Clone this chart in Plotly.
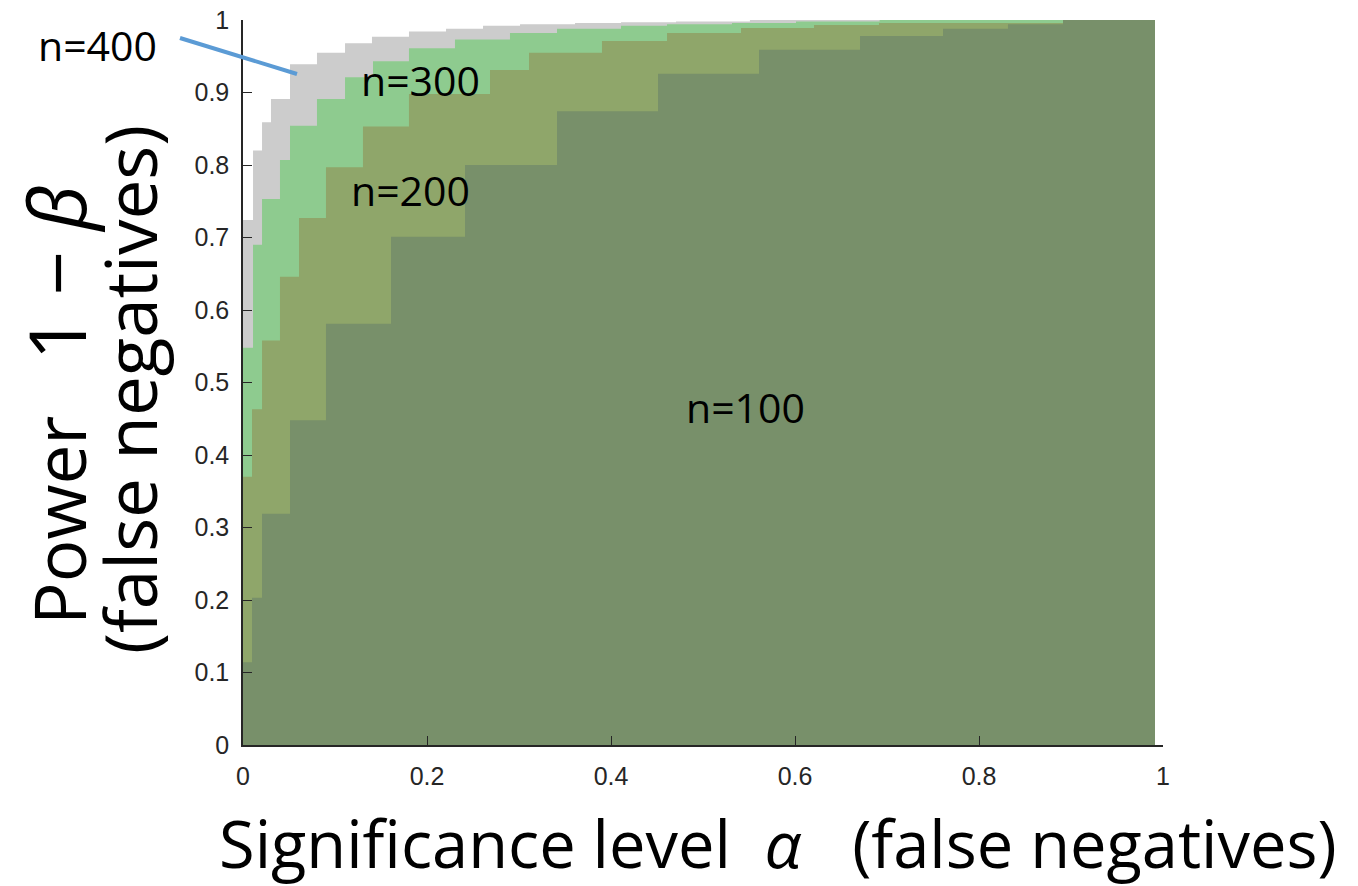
import plotly.graph_objects as go

# Step curves (significance level alpha -> power 1-beta)
alpha_100 = [0, 0.0098, 0.0207, 0.0511, 0.0902, 0.1609, 0.2413, 0.3413, 0.4511, 0.5609, 0.6707, 0.7609, 0.8315, 0.8913, 0.9913]
power_100 = [0.114, 0.203, 0.319, 0.448, 0.581, 0.701, 0.800, 0.874, 0.926, 0.959, 0.978, 0.988, 0.994, 1.0, 1.0]

alpha_200 = [0, 0.0098, 0.0207, 0.0402, 0.0609, 0.0902, 0.1304, 0.1804, 0.2685, 0.3109, 0.3902, 0.4609, 0.5413, 0.6207, 0.6913, 0.8913, 0.9913]
power_200 = [0.370, 0.463, 0.558, 0.646, 0.727, 0.797, 0.853, 0.898, 0.931, 0.955, 0.971, 0.982, 0.989, 0.993, 0.996, 1.0, 1.0]

alpha_300 = [0, 0.0109, 0.0207, 0.0402, 0.0511, 0.0804, 0.1109, 0.1413, 0.1804, 0.2304, 0.2902, 0.3413, 0.4109, 0.4609, 0.5315, 0.6011, 0.692, 0.9913]
power_300 = [0.548, 0.690, 0.753, 0.807, 0.854, 0.891, 0.921, 0.943, 0.961, 0.973, 0.982, 0.988, 0.992, 0.994, 0.996, 0.998, 1.0, 1.0]

alpha_400 = [0, 0.0109, 0.0207, 0.0304, 0.0511, 0.0804, 0.1109, 0.1402, 0.1804, 0.2207, 0.2609, 0.3011, 0.3609, 0.4109, 0.4707, 0.551, 0.9913]
power_400 = [0.724, 0.820, 0.859, 0.891, 0.939, 0.955, 0.968, 0.977, 0.984, 0.988, 0.992, 0.994, 0.996, 0.997, 0.998, 1.0, 1.0]

series_names = ["n=400", "n=300", "n=200", "n=100"]
series_colors = ["#cccccc", "#8ecb8f", "#8fa66a", "#78906a"]
series_x = [alpha_400, alpha_300, alpha_200, alpha_100]
series_y = [power_400, power_300, power_200, power_100]

tick_vals_y = [0, 0.1, 0.2, 0.3, 0.4, 0.5, 0.6, 0.7, 0.8, 0.9, 1]
tick_text_y = ["0", "0.1", "0.2", "0.3", "0.4", "0.5", "0.6", "0.7", "0.8", "0.9", "1"]
tick_vals_x = [0, 0.2, 0.4, 0.6, 0.8, 1]
tick_text_x = ["0", "0.2", "0.4", "0.6", "0.8", "1"]

fig = go.Figure()
for name, col, xs, ys in zip(series_names, series_colors, series_x, series_y):
    fig.add_trace(go.Scatter(
        x=xs, y=ys, mode="lines", line=dict(shape="hv", width=0, color=col),
        fill="tozeroy", fillcolor=col, name=name, showlegend=False,
        hoverinfo="skip"))

W, H = 1358, 886
L, R, T, B = 243, 1163, 20, 745

axis_common = dict(
    showgrid=False, zeroline=False, showline=True, linecolor="#262626", linewidth=1.5,
    ticks="inside", ticklen=9, tickwidth=1.2, tickcolor="#262626",
    tickfont=dict(family="Liberation Sans, Arial, sans-serif", size=25, color="#262626"),
    range=[0, 1], fixedrange=True, automargin=False, ticklabeloverflow="allow",
)

fig.update_layout(
    width=W, height=H,
    margin=dict(l=L, r=W - R, t=T, b=H - B, pad=0, autoexpand=False),
    paper_bgcolor="white", plot_bgcolor="white",
    xaxis=dict(**axis_common, tickvals=tick_vals_x, ticktext=tick_text_x, ticklabelstandoff=8),
    yaxis=dict(**axis_common, tickvals=tick_vals_y, ticktext=tick_text_y, ticklabelstandoff=7),
)

def px_to_paper(px, py):
    # px, py are page pixel positions measured on the reference
    return (px - L) / (R - L), (B - py) / (B - T)

annots = []
# y-axis title, two lines
ytitle_1 = "Power   <span style='font-size:78px'>1 − <i>β</i></span>"
ytitle_2 = "(false negatives)"
for txt, cx, cy in [(ytitle_1, 56, 405), (ytitle_2, 129, 390)]:
    ax_, ay_ = px_to_paper(cx, cy)
    annots.append(dict(text=txt, x=ax_, y=ay_, xref="paper", yref="paper", textangle=-90,
                       showarrow=False,
                       font=dict(family="Open Sans, sans-serif", size=71, color="black"),
                       xanchor="center", yanchor="middle"))
# x-axis title
xx, xy = px_to_paper(778, 843)
annots.append(dict(text="Significance level  <i>α</i>   (false negatives)", x=xx, y=xy,
                   xref="paper", yref="paper", showarrow=False,
                   font=dict(family="Open Sans, sans-serif", size=65, color="black"),
                   xanchor="center", yanchor="middle"))
# series labels
for txt, (px, py) in zip(["n=400", "n=300", "n=200", "n=100"],
                         [(97, 45), (420, 80), (410, 190), (745, 407)]):
    ax_, ay_ = px_to_paper(px, py)
    annots.append(dict(text=txt, x=ax_, y=ay_, xref="paper", yref="paper",
                       showarrow=False,
                       font=dict(family="Open Sans, sans-serif", size=41, color="black"),
                       xanchor="center", yanchor="middle"))
fig.update_layout(annotations=annots)

x0, y0 = px_to_paper(180, 38)
x1, y1 = px_to_paper(297, 74)
fig.add_shape(type="line", xref="paper", yref="paper", x0=x0, y0=y0, x1=x1, y1=y1,
              line=dict(color="#5b9bd5", width=4))

fig.write_html("out.html", config={"displayModeBar": False},
               post_script="document.body.style.margin='0';")
